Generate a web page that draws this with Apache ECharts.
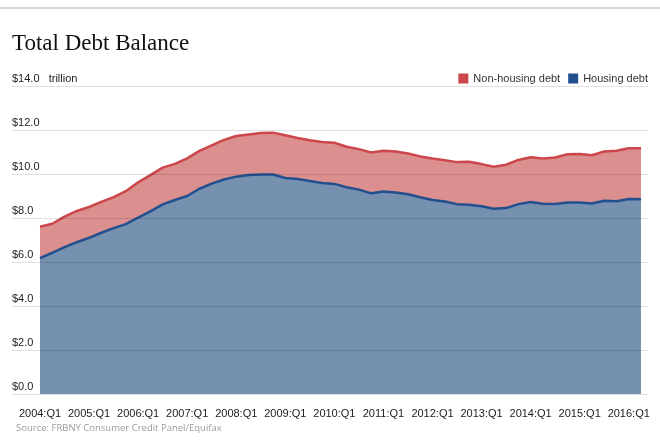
<!DOCTYPE html>
<html>
<head>
<meta charset="utf-8">
<script src="https://cdn.jsdelivr.net/npm/echarts@6/dist/echarts.min.js"></script>
<style>
html,body{margin:0;padding:0;background:#fff;}
#chart{width:660px;height:441px;}
</style>
</head>
<body>
<div id="chart"></div>
<script>
const quarters = [
  "2004:Q1","2004:Q2","2004:Q3","2004:Q4","2005:Q1","2005:Q2","2005:Q3","2005:Q4",
  "2006:Q1","2006:Q2","2006:Q3","2006:Q4","2007:Q1","2007:Q2","2007:Q3","2007:Q4",
  "2008:Q1","2008:Q2","2008:Q3","2008:Q4","2009:Q1","2009:Q2","2009:Q3","2009:Q4",
  "2010:Q1","2010:Q2","2010:Q3","2010:Q4","2011:Q1","2011:Q2","2011:Q3","2011:Q4",
  "2012:Q1","2012:Q2","2012:Q3","2012:Q4","2013:Q1","2013:Q2","2013:Q3","2013:Q4",
  "2014:Q1","2014:Q2","2014:Q3","2014:Q4","2015:Q1","2015:Q2","2015:Q3","2015:Q4",
  "2016:Q1","2016:Q2"
];
const housingDebt = [
  6.18, 6.42, 6.68, 6.90, 7.10, 7.33, 7.54, 7.72, 8.02, 8.30,
  8.62, 8.82, 9.00, 9.33, 9.56, 9.75, 9.88, 9.95, 9.98, 9.98,
  9.82, 9.77, 9.68, 9.59, 9.55, 9.40, 9.29, 9.12, 9.20, 9.16,
  9.08, 8.94, 8.82, 8.75, 8.63, 8.60, 8.53, 8.42, 8.45, 8.63,
  8.73, 8.65, 8.64, 8.70, 8.71, 8.66, 8.78, 8.76, 8.86, 8.85
];
const nonHousingDebt = [
  1.42, 1.32, 1.38, 1.42, 1.40, 1.40, 1.41, 1.50, 1.60, 1.65,
  1.67, 1.64, 1.71, 1.72, 1.74, 1.80, 1.85, 1.85, 1.88, 1.90,
  1.94, 1.87, 1.85, 1.86, 1.87, 1.84, 1.84, 1.86, 1.86, 1.86,
  1.85, 1.86, 1.88, 1.87, 1.91, 1.96, 1.92, 1.91, 1.97, 2.01,
  2.03, 2.06, 2.11, 2.20, 2.20, 2.19, 2.24, 2.30, 2.31, 2.32
];
const yTicks = [0, 2, 4, 6, 8, 10, 12, 14];

const chart = echarts.init(document.getElementById('chart'), null, {renderer: 'canvas'});
const gridTop = 86, gridBottom = 47;
chart.setOption({
  animation: false,
  backgroundColor: '#fff',
  title: {
    text: 'Total Debt Balance',
    left: 12, top: 32, padding: 0,
    textStyle: {fontFamily: 'Liberation Serif', fontSize: 23, fontWeight: 'normal', color: '#111'}
  },
  legend: {
    right: 7, top: 68,
    icon: 'rect', itemWidth: 10, itemHeight: 10, itemGap: 8,
    data: ['Non-housing debt', 'Housing debt'],
    textStyle: {fontFamily: 'Liberation Sans', fontSize: 11, color: '#333'}
  },
  graphic: [
    {type: 'line', shape: {x1: 0, y1: 8, x2: 660, y2: 8}, style: {stroke: '#d8d8d8', lineWidth: 2}},
    {type: 'text', left: 16, top: 423, style: {text: 'Source: FRBNY Consumer Credit Panel/Equifax', fill: '#9a9a9a', font: '9.5px "Open Sans"'}}
  ],
  grid: [
    {left: 12, right: 12, top: gridTop, bottom: gridBottom},
    {left: 40, right: 19, top: gridTop, bottom: gridBottom}
  ],
  xAxis: [
    {gridIndex: 0, type: 'value', show: false, min: 0, max: 1},
    {
      gridIndex: 1, type: 'category', data: quarters, boundaryGap: false,
      axisLine: {show: false}, axisTick: {show: false},
      axisLabel: {
        interval: function (idx) { return idx % 4 === 0; },
        margin: 14, color: '#222', fontFamily: 'Liberation Sans', fontSize: 11
      }
    }
  ],
  yAxis: [
    {
      gridIndex: 0, type: 'value', min: 0, max: 14, interval: 2, z: 5,
      axisLine: {show: false}, axisTick: {show: false},
      splitLine: {show: true, lineStyle: {color: 'rgba(0,0,0,0.12)', width: 1}},
      axisLabel: {
        inside: true, margin: 0, verticalAlign: 'bottom', padding: [0, 0, 2, 0],
        color: '#222', fontFamily: 'Liberation Sans', fontSize: 11,
        formatter: function (v) {
          if (yTicks.indexOf(v) < 0) return '';
          return v === 14 ? '$14.0   trillion' : '$' + v.toFixed(1);
        }
      }
    },
    {gridIndex: 1, type: 'value', min: 0, max: 14, show: false}
  ],
  series: [
    {
      name: 'Housing debt', type: 'line', xAxisIndex: 1, yAxisIndex: 1,
      stack: 'debt', data: housingDebt, symbol: 'none', z: 3,
      itemStyle: {color: '#22508f'},
      lineStyle: {color: '#22508f', width: 2.5},
      areaStyle: {color: '#7690b0', opacity: 1}
    },
    {
      name: 'Non-housing debt', type: 'line', xAxisIndex: 1, yAxisIndex: 1,
      stack: 'debt', data: nonHousingDebt, symbol: 'none', z: 2,
      itemStyle: {color: '#cc474b'},
      lineStyle: {color: '#cc474b', width: 2.5},
      areaStyle: {color: '#db8f8e', opacity: 1}
    }
  ]
});
</script>
</body>
</html>
